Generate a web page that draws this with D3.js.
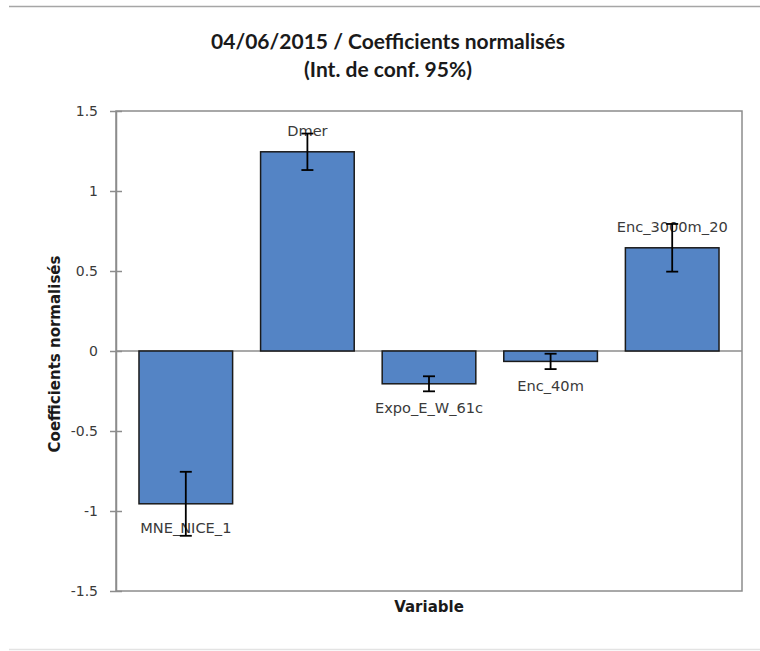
<!DOCTYPE html>
<html>
<head>
<meta charset="utf-8">
<script src="https://cdn.jsdelivr.net/npm/d3@7"></script>
<style>
  html, body { margin: 0; padding: 0; background: #fff; }
  svg { display: block; }
</style>
</head>
<body>
<svg id="chart" width="760" height="651"></svg>
<script>
// Normalised coefficients with 95% confidence half-widths
const categories = ["MNE_NICE_1", "Dmer", "Expo_E_W_61c", "Enc_40m", "Enc_3000m_20"];
const coefficients = [-0.955, 1.245, -0.205, -0.065, 0.645];
const confHalfWidths = [0.2, 0.114, 0.047, 0.048, 0.149];
const yTickValues = [-1.5, -1, -0.5, 0, 0.5, 1, 1.5];
const titleLines = ["04/06/2015 / Coefficients normalisés", "(Int. de conf. 95%)"];
const yAxisTitle = "Coefficients normalisés";
const xAxisTitle = "Variable";

const data = categories.map((c, i) => ({ name: c, value: coefficients[i], err: confHalfWidths[i] }));

const svg = d3.select("#chart");
const titleFont = "Lato, 'Open Sans', sans-serif";
const bodyFont = "'DejaVu Sans', Verdana, sans-serif";
const plot = { left: 116, right: 742, top: 111, bottom: 591 };

const y = d3.scaleLinear().domain([-1.5, 1.5]).range([plot.bottom, plot.top]);
const x = d3.scaleBand().domain(categories).range([125, 733]).paddingInner(0.23).paddingOuter(0.115);

// Chart frame edges
svg.append("line").attr("x1", 9).attr("x2", 760).attr("y1", 6.5).attr("y2", 6.5)
  .attr("stroke", "#a6a6a6").attr("stroke-width", 1.5);
svg.append("line").attr("x1", 9).attr("x2", 760).attr("y1", 649.5).attr("y2", 649.5)
  .attr("stroke", "#e3e3e3").attr("stroke-width", 1.5);

// Title
const title = svg.append("text").attr("text-anchor", "middle")
  .attr("font-family", titleFont).attr("font-weight", "bold").attr("font-size", 21)
  .attr("fill", "#1a1a1a");
titleLines.forEach((t, i) => {
  title.append("tspan").attr("x", 388).attr("y", 49 + i * 28).text(t);
});

// Plot area border
svg.append("rect")
  .attr("x", plot.left).attr("y", plot.top)
  .attr("width", plot.right - plot.left).attr("height", plot.bottom - plot.top)
  .attr("fill", "none").attr("stroke", "#8c8c8c").attr("stroke-width", 1.5);

// Y axis
const yAxis = d3.axisLeft(y).tickValues(yTickValues)
  .tickFormat(d => String(d)).tickSizeInner(6).tickSizeOuter(0).tickPadding(12);
const gy = svg.append("g").attr("transform", `translate(${plot.left},0)`).call(yAxis);
gy.select(".domain").attr("stroke", "#8c8c8c").attr("stroke-width", 1.5);
gy.selectAll(".tick line").attr("x2", 6).attr("x1", -6).attr("stroke", "#8c8c8c").attr("stroke-width", 1.5);
gy.selectAll(".tick text").attr("font-family", bodyFont).attr("font-size", 14).attr("fill", "#3a3a3a");

// Zero baseline
svg.append("line")
  .attr("x1", plot.left).attr("x2", plot.right)
  .attr("y1", y(0)).attr("y2", y(0))
  .attr("stroke", "#8c8c8c").attr("stroke-width", 1.5);

// Bars
svg.append("g").selectAll("rect").data(data).join("rect")
  .attr("x", d => x(d.name))
  .attr("width", x.bandwidth())
  .attr("y", d => y(Math.max(0, d.value)))
  .attr("height", d => Math.abs(y(d.value) - y(0)))
  .attr("fill", "#5484c5")
  .attr("stroke", "#1a1a1a").attr("stroke-width", 1.5);

// Category labels at the bar ends
svg.append("g").selectAll("text").data(data).join("text")
  .attr("x", d => x(d.name) + x.bandwidth() / 2)
  .attr("y", d => d.value >= 0 ? y(d.value) - 21 : y(d.value) + 24)
  .attr("dy", "0.35em")
  .attr("text-anchor", "middle")
  .attr("font-family", bodyFont).attr("font-size", 14.6).attr("fill", "#3a3a3a")
  .text(d => d.name);

// Confidence interval whiskers
const cap = 6;
const eb = svg.append("g").attr("stroke", "#000").attr("stroke-width", 1.8);
data.forEach(d => {
  const cx = x(d.name) + x.bandwidth() / 2;
  const y1 = y(d.value + d.err), y2 = y(d.value - d.err);
  eb.append("line").attr("x1", cx).attr("x2", cx).attr("y1", y1).attr("y2", y2);
  eb.append("line").attr("x1", cx - cap).attr("x2", cx + cap).attr("y1", y1).attr("y2", y1);
  eb.append("line").attr("x1", cx - cap).attr("x2", cx + cap).attr("y1", y2).attr("y2", y2);
});

// Axis titles
svg.append("text")
  .attr("x", (plot.left + plot.right) / 2).attr("y", 607).attr("dy", "0.35em")
  .attr("text-anchor", "middle")
  .attr("font-family", bodyFont).attr("font-weight", "bold").attr("font-size", 15).attr("fill", "#1a1a1a")
  .text(xAxisTitle);

svg.append("text")
  .attr("transform", `translate(55,${(plot.top + plot.bottom) / 2 + 3}) rotate(-90)`)
  .attr("dy", "0.35em")
  .attr("text-anchor", "middle")
  .attr("font-family", bodyFont).attr("font-weight", "bold").attr("font-size", 15).attr("fill", "#1a1a1a")
  .text(yAxisTitle);
</script>
</body>
</html>
